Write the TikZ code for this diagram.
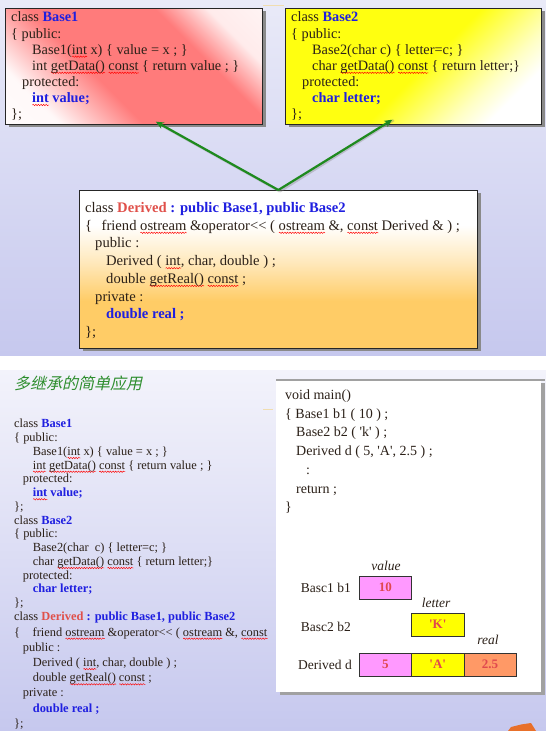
\documentclass[tikz,border=0pt]{standalone}
\usepackage{fontspec}
\setmainfont{Liberation Serif}
\newfontfamily\cjk{Noto Sans CJK SC}[FakeSlant=0.22]
\usetikzlibrary{arrows.meta,shadows,decorations.pathmorphing}

\definecolor{bgtop}{HTML}{E9EAF8}
\definecolor{bgbot}{HTML}{C6C8EE}
\definecolor{bgtopB}{HTML}{F3F3FB}
\definecolor{redfill}{HTML}{FF7B7B}
\definecolor{yellowfill}{HTML}{FFFF10}
\definecolor{orangefill}{HTML}{FFCC66}
\definecolor{codecol}{HTML}{2B2018}
\definecolor{kwblue}{HTML}{1F1FE0}
\definecolor{dredcol}{HTML}{E0504A}
\definecolor{titlegreen}{HTML}{2E8E2E}
\definecolor{arrowgreen}{HTML}{1E8A1E}
\definecolor{shadowgray}{HTML}{8A8A8A}
\definecolor{cellpink}{HTML}{FF99FF}
\definecolor{cellyellow}{HTML}{FFFF00}
\definecolor{cellorange}{HTML}{FF9966}
\definecolor{celltext}{HTML}{E0484E}
\definecolor{tanmark}{HTML}{F0DDB0}
\definecolor{blobcol}{HTML}{E8702A}

% diagonal fills of the three class boxes
\pgfdeclarehorizontalshading{redband}{100bp}{color(0bp)=(white); color(25bp)=(white!95!redfill); color(41bp)=(redfill); color(65bp)=(redfill); color(75bp)=(white!85!redfill); color(100bp)=(white)}
\pgfdeclarehorizontalshading{yellowband}{100bp}{color(0bp)=(yellowfill); color(25bp)=(yellowfill); color(52bp)=(yellowfill); color(68bp)=(white!75!yellowfill); color(75bp)=(white); color(100bp)=(white)}
\pgfdeclareverticalshading{orangefade}{100bp}{color(0bp)=(orangefill); color(25bp)=(orangefill); color(40bp)=(orangefill); color(52bp)=(white!55!orangefill); color(64bp)=(white); color(100bp)=(white)}

% red wavy underline of the editor's spell check
\newsavebox\sqbox
\newlength\sqlen
\newcommand\sq[1]{\leavevmode\sbox\sqbox{#1}\setlength\sqlen{\wd\sqbox}%
  \rlap{\raisebox{-2.6pt}[0pt][0pt]{\tikz[baseline=0pt]\draw[red, line width=0.45pt, decorate,
    decoration={snake, amplitude=0.7pt, segment length=2.6pt}] (0pt,0pt) -- (\sqlen,0pt);}}%
  \usebox\sqbox}
\newcommand\kw[1]{\textcolor{kwblue}{\bfseries #1}}
\newcommand\dn[1]{\textcolor{dredcol}{\bfseries #1}}
% straight apostrophe, set as a glyph so no quote mapping applies
\newcommand\ap{\XeTeXglyph\XeTeXcharglyph"0027\relax}

\begin{document}
\begin{tikzpicture}[x=1pt,y=-1pt,
  classbox/.style={anchor=north west, draw=black!85, line width=0.7pt, inner sep=0pt,
    drop shadow={shadow xshift=4pt, shadow yshift=-3pt, fill=shadowgray, opacity=1}},
  code/.style={anchor=north west, inner sep=0pt, align=left, text=codecol},
  inherit/.style={draw=arrowgreen, line width=2.2pt, -{Stealth[length=8pt,width=7pt]}},
  inheritshadow/.style={draw=gray, opacity=0.35, line width=2.2pt},
  cell/.style={anchor=north west, draw=black!80, line width=0.6pt, minimum width=52.3pt,
    minimum height=22.5pt, inner sep=0pt, text=celltext, font=\bfseries\fontsize{13}{13}\selectfont},
  lbl/.style={anchor=base, inner sep=0pt, font=\itshape\fontsize{13.5}{13.5}\selectfont, text=codecol},
  rowlbl/.style={anchor=base west, inner sep=0pt, font=\fontsize{13.5}{13.5}\selectfont, text=codecol}]
\useasboundingbox (0,0) rectangle (546,731);

% slide backgrounds
\shade[top color=bgtop, bottom color=bgbot] (0,0) rectangle (546,356);
\fill[white] (0,356) rectangle (546,370);
\shade[top color=bgtopB, bottom color=bgbot] (0,370) rectangle (546,731);
\draw[tanmark, line width=1pt] (263,5) -- (284,5);
\draw[tanmark, line width=1pt] (263,409.5) -- (273,409.5);

% ---------- class hierarchy ----------
\node[classbox, shading=redband, shading angle=45, minimum width=257pt, minimum height=116pt] (base1) at (5,8) {};
\node[classbox, shading=yellowband, shading angle=-45, minimum width=256pt, minimum height=116pt] (base2) at (285,8) {};
\node[classbox, shading=orangefade, minimum width=398pt, minimum height=158pt] (derived) at (79,190) {};

\node[code, font=\fontsize{14.3}{16.1}\selectfont] (base1code) at (11,10.7)
 {\rule{0pt}{11pt}class \kw{Base1}\\
  \{ public:\\
  \hspace*{21pt}Base1(\sq{int} x) \{ value = x ; \}\\
  \hspace*{21pt}int \sq{getData()} \sq{const} \{ return value ; \}\\
  \hspace*{11pt}protected:\\
  \hspace*{21pt}\kw{\sq{int} value;}\\
  \};};

\node[code, font=\fontsize{14.3}{16.1}\selectfont] (base2code) at (291,10.7)
 {\rule{0pt}{11pt}class \kw{Base2}\\
  \{ public:\\
  \hspace*{21pt}Base2(char c) \{ letter=c; \}\\
  \hspace*{21pt}char \sq{getData()} \sq{const} \{ return letter;\}\\
  \hspace*{11pt}protected:\\
  \hspace*{21pt}\kw{char letter;}\\
  \};};

\node[code, font=\fontsize{14.6}{17.7}\selectfont] (derivedcode) at (85,201.3)
 {\rule{0pt}{11pt}class \dn{Derived} \kw{: public Base1, public Base2}\\
  \{\hspace{9.5pt}friend \sq{ostream} \&operator<{}< ( \sq{ostream} \&, \sq{const} Derived \& ) ;\\
  \hspace*{10pt}public :\\
  \hspace*{21pt}Derived ( \sq{int}, char, double ) ;\\
  \hspace*{21pt}double \sq{getReal()} \sq{const} ;\\
  \hspace*{10pt}private :\\
  \hspace*{21pt}\kw{double real ;}\\
  \};};

% inheritance arrows
\draw[inheritshadow] ([shift={(1.5pt,-1.5pt)}]derived.north) -- ([shift={(23.5pt,1.5pt)}]base1.south);
\draw[inheritshadow] ([shift={(1.5pt,-1.5pt)}]derived.north) -- ([shift={(-19.5pt,4.5pt)}]base2.south);
\draw[inherit] (derived.north) -- ([shift={(22pt,3pt)}]base1.south);
\draw[inherit] (derived.north) -- ([shift={(-21pt,5pt)}]base2.south);

% ---------- simple use of multiple inheritance ----------
\node[anchor=west, inner sep=0pt, text=titlegreen, font=\cjk\fontsize{16}{16}\selectfont] (title) at (14,383) {多继承的简单应用};

\node[code, font=\fontsize{12.4}{13.75}\selectfont] (listA) at (14,417.7)
 {\rule{0pt}{10pt}class \kw{Base1}\\
  \{ public:\\
  \hspace*{18.7pt}Base1(\sq{int} x) \{ value = x ; \}\\
  \hspace*{18.7pt}\sq{int} \sq{getData()} \sq{const} \{ return value ; \}\\
  \hspace*{8.7pt}protected:\\
  \hspace*{18.7pt}\kw{\sq{int} value;}\\
  \};\\
  class \kw{Base2}\\
  \{ public:\\
  \hspace*{18.7pt}Base2(char\ \ c) \{ letter=c; \}\\
  \hspace*{18.7pt}char \sq{getData()} \sq{const} \{ return letter;\}\\
  \hspace*{8.7pt}protected:\\
  \hspace*{18.7pt}\kw{char letter;}\\
  \};};

\node[code, font=\fontsize{12.4}{15.2}\selectfont] (listB) at (14,610.7)
 {\rule{0pt}{10pt}class \dn{Derived} \kw{: public Base1, public Base2}\\
  \{\hspace{12.5pt}friend \sq{ostream} \&operator<{}< ( \sq{ostream} \&, \sq{const}\\
  \hspace*{8.7pt}public :\\
  \hspace*{18.7pt}Derived ( \sq{int}, char, double ) ;\\
  \hspace*{18.7pt}double \sq{getReal()} \sq{const} ;\\
  \hspace*{8.7pt}private :\\
  \hspace*{18.7pt}\kw{double real ;}\\
  \};};

% main program panel
\node[anchor=north west, fill=white, inner sep=0pt, minimum width=265pt, minimum height=312pt,
  drop shadow={shadow xshift=4pt, shadow yshift=-3pt, fill=shadowgray!80, opacity=1}] (mainbox) at (276,380) {};
\draw[shadowgray!80, line width=1.6pt] (mainbox.north west) -- ([xshift=4pt]mainbox.north east);

\node[code, font=\fontsize{14}{18.7}\selectfont] (maincode) at (285,388.3)
 {\rule{0pt}{11pt}void main()\\
  \{ Base1 b1 ( 10 ) ;\\
  \hspace*{11pt}Base2 b2 ( \ap k\ap{} ) ;\\
  \hspace*{11pt}Derived d ( 5, \ap A\ap, 2.5 ) ;\\
  \hspace*{21pt}:\\
  \hspace*{11pt}return ;\\
  \}};

% object layouts
\node[cell, fill=cellpink] (b1value) at (359,576) {10};
\node[cell, fill=cellyellow] (b2letter) at (411.3,613) {\ap K\ap};
\node[cell, fill=cellpink] (dvalue) at (359,653) {5};
\node[cell, fill=cellyellow] (dletter) at (411.3,653) {\ap A\ap};
\node[cell, fill=cellorange] (dreal) at (463.6,653) {2.5};

\node[lbl] (lvalue) at (386,570) {value};
\node[lbl] (lletter) at (436,607.3) {letter};
\node[lbl] (lreal) at (488,644.3) {real};

\node[rowlbl] (rowb1) at (300.7,592) {Basc1 b1};
\node[rowlbl] (rowb2) at (300.7,631.5) {Basc2 b2};
\node[rowlbl] (rowd) at (298,669) {Derived d};

% corner ornament
\fill[blobcol] (508,731) -- (511,727) -- (521,724.5) -- (531,723) -- (536,731) -- cycle;
\end{tikzpicture}
\end{document}
